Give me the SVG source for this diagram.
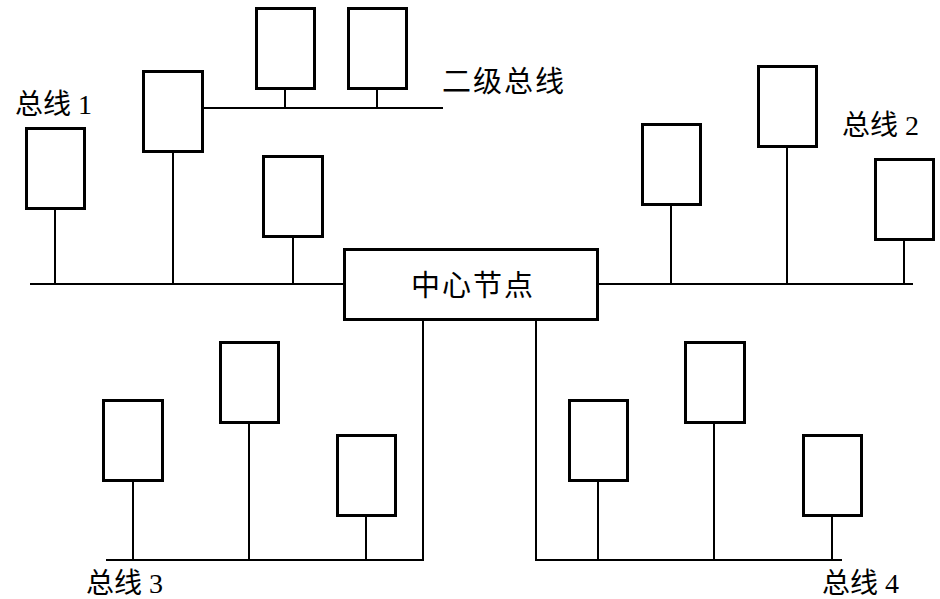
<svg xmlns="http://www.w3.org/2000/svg" width="940" height="599" viewBox="0 0 940 599">
<style>
.box{fill:#fff;stroke:#000;stroke-width:3}
.ln{stroke:#000;stroke-width:2;fill:none}
.t{font-family:"Liberation Serif","Noto Sans CJK SC",serif;font-size:28px;fill:#000}
.w{font-size:29px;letter-spacing:2px}
</style>
<rect width="940" height="599" fill="#fff"/>
<g id="connectors">
<line class="ln" x1="30" y1="284" x2="344" y2="284"/>
<line class="ln" x1="598" y1="284" x2="913" y2="284"/>
<line class="ln" x1="55" y1="210" x2="55" y2="284"/>
<line class="ln" x1="173" y1="153" x2="173" y2="284"/>
<line class="ln" x1="293" y1="238" x2="293" y2="284"/>
<line class="ln" x1="204" y1="108" x2="443" y2="108"/>
<line class="ln" x1="285" y1="90" x2="285" y2="108"/>
<line class="ln" x1="377" y1="90" x2="377" y2="108"/>
<line class="ln" x1="671" y1="206" x2="671" y2="284"/>
<line class="ln" x1="787" y1="147" x2="787" y2="284"/>
<line class="ln" x1="904" y1="241" x2="904" y2="284"/>
<polyline class="ln" points="423,320 423,560 106,560"/>
<line class="ln" x1="133" y1="482" x2="133" y2="560"/>
<line class="ln" x1="249" y1="423" x2="249" y2="560"/>
<line class="ln" x1="366" y1="517" x2="366" y2="560"/>
<polyline class="ln" points="536,320 536,560 842,560"/>
<line class="ln" x1="598" y1="482" x2="598" y2="560"/>
<line class="ln" x1="714" y1="423" x2="714" y2="560"/>
<line class="ln" x1="832" y1="517" x2="832" y2="560"/>
</g>
<g id="center"><rect class="box" x="344.5" y="249.5" width="253" height="70"/><text class="t w" x="473" y="296" text-anchor="middle">中心节点</text></g>
<g id="a"><rect class="box" x="26.5" y="128.5" width="58" height="80"/></g>
<g id="b"><rect class="box" x="143.5" y="71.5" width="59" height="80"/></g>
<g id="c"><rect class="box" x="256.5" y="8.5" width="58" height="80"/></g>
<g id="d"><rect class="box" x="263.5" y="156.5" width="59" height="80"/></g>
<g id="e"><rect class="box" x="348.5" y="8.5" width="58" height="80"/></g>
<g id="f"><rect class="box" x="642.5" y="124.5" width="58" height="80"/></g>
<g id="g"><rect class="box" x="758.5" y="66.5" width="58" height="80"/></g>
<g id="h"><rect class="box" x="875.5" y="159.5" width="58" height="80"/></g>
<g id="i"><rect class="box" x="103.5" y="400.5" width="59" height="80"/></g>
<g id="j"><rect class="box" x="220.5" y="342.5" width="58" height="80"/></g>
<g id="k"><rect class="box" x="337.5" y="435.5" width="58" height="80"/></g>
<g id="l"><rect class="box" x="569.5" y="400.5" width="58" height="80"/></g>
<g id="m"><rect class="box" x="685.5" y="342.5" width="59" height="80"/></g>
<g id="n"><rect class="box" x="803.5" y="435.5" width="58" height="80"/></g>
<g id="labels">
<text class="t" x="15" y="114">总线 1</text>
<text class="t" x="842" y="135">总线 2</text>
<text class="t" x="86" y="593">总线 3</text>
<text class="t" x="822" y="593">总线 4</text>
<text class="t w" x="442" y="92">二级总线</text>
</g>
</svg>
